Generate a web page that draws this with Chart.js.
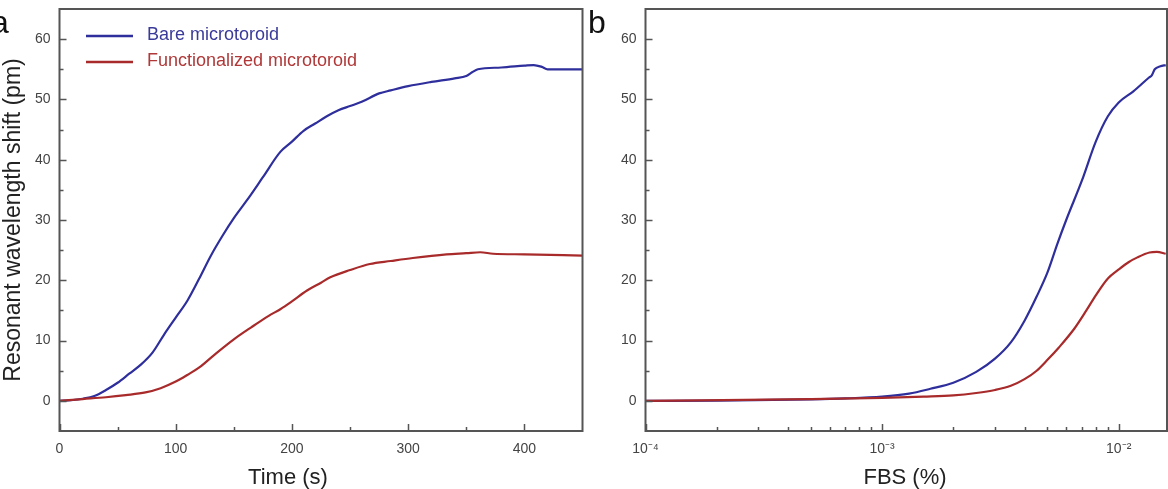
<!DOCTYPE html>
<html>
<head>
<meta charset="utf-8">
<script src="https://cdn.jsdelivr.net/npm/chart.js@4.4.0/dist/chart.umd.min.js"></script>
<style>
  html, body { margin: 0; padding: 0; background: #fff; overflow: hidden; }
  #wrap { position: relative; width: 1168px; height: 489px; }
  canvas { position: absolute; top: 0; }
  .panel { position: absolute; top: 6px; font: 32px "Liberation Sans", Arial, sans-serif; line-height: 1; color: #111; }
</style>
</head>
<body>
<div id="wrap">
  <canvas id="chartA" width="600" height="489" style="left:0"></canvas>
  <canvas id="chartB" width="568" height="489" style="left:600px"></canvas>
  <div class="panel" style="left:-9px">a</div>
  <div class="panel" style="left:588px">b</div>
</div>
<script>
// panel a: shift vs time
const bareTime = [0, 10, 20, 30, 40, 50, 60, 70, 80, 90, 100, 110, 120, 130, 140, 150, 161, 175, 190, 200, 210, 220, 230, 240, 250, 260, 275, 285, 300, 320, 340, 350, 355, 360, 380, 400, 408, 415, 420, 450];
const bareShift = [0, 0.1, 0.35, 0.8, 1.8, 3.0, 4.5, 6.0, 8.0, 11.0, 13.8, 16.6, 20.2, 24.0, 27.3, 30.3, 33.2, 37.1, 41.3, 43.0, 44.8, 46.0, 47.2, 48.2, 48.9, 49.6, 51.0, 51.5, 52.2, 52.9, 53.5, 53.9, 54.5, 55.0, 55.3, 55.6, 55.7, 55.4, 55.0, 55.0];
const funcTime = [0, 20, 40, 57, 74, 87, 100, 110, 120, 133, 150, 165, 180, 190, 200, 213, 225, 233, 250, 267, 285, 304, 333, 350, 362, 373, 400, 450];
const funcShift = [0, 0.3, 0.6, 0.95, 1.4, 2.1, 3.2, 4.3, 5.5, 7.6, 10.2, 12.2, 14.1, 15.2, 16.5, 18.3, 19.6, 20.5, 21.7, 22.7, 23.2, 23.7, 24.3, 24.5, 24.65, 24.4, 24.3, 24.1];

// panel b: shift vs FBS concentration
const bareFbs = [1e-4, 2e-4, 5e-4, 7e-4, 1e-3, 1.3e-3, 1.6e-3, 2e-3, 2.5e-3, 3e-3, 3.5e-3, 4e-3, 4.5e-3, 5e-3, 5.5e-3, 6e-3, 7e-3, 8e-3, 9e-3, 0.01, 0.0115, 0.0134, 0.0138, 0.0142, 0.015, 0.0158];
const bareFbsShift = [0, 0.05, 0.25, 0.4, 0.7, 1.2, 2.0, 3.0, 4.8, 7.0, 9.7, 13.3, 17.3, 21.3, 26.0, 30.0, 36.6, 43.0, 47.2, 49.5, 51.3, 53.6, 54.0, 55.0, 55.5, 55.7];
const funcFbs = [1e-4, 5e-4, 1e-3, 1.5e-3, 2e-3, 2.5e-3, 3e-3, 3.5e-3, 4e-3, 4.5e-3, 5e-3, 5.6e-3, 6.5e-3, 7.3e-3, 8e-3, 9e-3, 0.01, 0.011, 0.012, 0.0135, 0.0145, 0.0158];
const funcFbsShift = [0, 0.3, 0.5, 0.7, 0.9, 1.3, 1.8, 2.5, 3.6, 5.0, 6.8, 8.9, 12.0, 15.0, 17.5, 20.3, 21.8, 23.0, 23.8, 24.6, 24.7, 24.4];

// ticks
const shiftTicks = [0, 10, 20, 30, 40, 50, 60];
const shiftMinor = [5, 15, 25, 35, 45, 55];
const timeTicks = [0, 100, 200, 300, 400];
const timeMinor = [50, 150, 250, 350];
const fbsTicks = [1e-4, 1e-3, 1e-2];
const fbsTickLabels = ['10\u207B\u2074', '10\u207B\u00B3', '10\u207B\u00B2'];
const fbsMinor = [2e-4, 3e-4, 4e-4, 5e-4, 6e-4, 7e-4, 8e-4, 9e-4, 2e-3, 3e-3, 4e-3, 5e-3, 6e-3, 7e-3, 8e-3, 9e-3];

const seriesNames = ['Bare microtoroid', 'Functionalized microtoroid'];

const FONT = '"Liberation Sans", Arial, sans-serif';
const BLUE = '#2e2e9c';
const RED = '#a82a2a';

const zip = (xs, ys) => xs.map((x, i) => ({ x, y: ys[i] }));

// frame, inward ticks, legend and x title
const framePlugin = {
  id: 'frame',
  afterDraw(chart, args, opts) {
    const { ctx, chartArea: a, scales: { x, y } } = chart;
    ctx.save();
    ctx.strokeStyle = '#555';
    ctx.lineWidth = 2;
    ctx.strokeRect(a.left, a.top, a.right - a.left, a.bottom - a.top);

    ctx.lineWidth = 1.5;
    ctx.beginPath();
    opts.xMajor.forEach(v => {
      const px = Math.round(x.getPixelForValue(v)) + 0.5;
      ctx.moveTo(px, a.bottom); ctx.lineTo(px, a.bottom - 7);
    });
    opts.xMinor.forEach(v => {
      const px = Math.round(x.getPixelForValue(v)) + 0.5;
      ctx.moveTo(px, a.bottom); ctx.lineTo(px, a.bottom - 4);
    });
    shiftTicks.forEach(v => {
      const py = Math.round(y.getPixelForValue(v)) + 0.5;
      ctx.moveTo(a.left, py); ctx.lineTo(a.left + 7, py);
    });
    shiftMinor.forEach(v => {
      const py = Math.round(y.getPixelForValue(v)) + 0.5;
      ctx.moveTo(a.left, py); ctx.lineTo(a.left + 4, py);
    });
    ctx.stroke();

    if (opts.legend) {
      const colors = [BLUE, RED];
      const textColors = ['#3a3a9a', '#b03838'];
      ctx.font = '18px ' + FONT;
      ctx.textBaseline = 'middle';
      ctx.lineWidth = 2.4;
      seriesNames.forEach((name, i) => {
        const ly = 36 + i * 26;
        ctx.strokeStyle = colors[i];
        ctx.beginPath(); ctx.moveTo(86, ly); ctx.lineTo(133, ly); ctx.stroke();
        ctx.fillStyle = textColors[i];
        ctx.fillText(name, 147, ly - 1);
      });
    }

    ctx.font = '22px ' + FONT;
    ctx.fillStyle = '#222';
    ctx.textAlign = 'center';
    ctx.textBaseline = 'middle';
    ctx.fillText(opts.xTitle.text, opts.xTitle.x, opts.xTitle.y);
    ctx.restore();
  }
};

function lineSet(label, points, color, order) {
  return {
    label,
    data: points,
    borderColor: color,
    backgroundColor: color,
    borderWidth: 2.2,
    pointRadius: 0,
    cubicInterpolationMode: 'monotone',
    order
  };
}

function yScale(width, withTitle) {
  return {
    type: 'linear',
    min: -5,
    max: 65,
    grid: { display: false, drawTicks: false, tickLength: 0 },
    border: { display: false },
    ticks: { color: '#444', font: { size: 14, family: FONT }, padding: 9 },
    afterBuildTicks: s => { s.ticks = shiftTicks.map(v => ({ value: v })); },
    afterFit: s => { s.width = width; s.paddingTop = 0; s.paddingBottom = 0; },
    title: {
      display: withTitle,
      text: 'Resonant wavelength shift (pm)',
      color: '#222',
      font: { size: 23, family: FONT },
      padding: 0
    }
  };
}

function xFit(s) {
  s.height = 58;
  s.paddingLeft = 0;
  s.paddingRight = 0;
}

new Chart(document.getElementById('chartA'), {
  type: 'line',
  data: {
    datasets: [
      lineSet(seriesNames[0], zip(bareTime, bareShift), BLUE, 1),
      lineSet(seriesNames[1], zip(funcTime, funcShift), RED, 0)
    ]
  },
  options: {
    responsive: false,
    animation: false,
    layout: { padding: { left: 0, top: 9, right: 17.5, bottom: 0 } },
    plugins: {
      legend: { display: false },
      tooltip: { enabled: false },
      frame: {
        xMajor: timeTicks,
        xMinor: timeMinor,
        legend: true,
        xTitle: { text: 'Time (s)', x: 288, y: 478 }
      }
    },
    scales: {
      x: {
        type: 'linear',
        min: 0,
        max: 450,
        grid: { display: false, drawTicks: false, tickLength: 0 },
        border: { display: false },
        ticks: { color: '#444', font: { size: 14, family: FONT }, padding: 10, maxRotation: 0 },
        afterBuildTicks: s => { s.ticks = timeTicks.map(v => ({ value: v })); },
        afterFit: xFit
      },
      y: yScale(59.5, true)
    }
  },
  plugins: [framePlugin]
});

new Chart(document.getElementById('chartB'), {
  type: 'line',
  data: {
    datasets: [
      lineSet(seriesNames[0], zip(bareFbs, bareFbsShift), BLUE, 1),
      lineSet(seriesNames[1], zip(funcFbs, funcFbsShift), RED, 0)
    ]
  },
  options: {
    responsive: false,
    animation: false,
    layout: { padding: { left: 0, top: 9, right: 1, bottom: 0 } },
    plugins: {
      legend: { display: false },
      tooltip: { enabled: false },
      frame: {
        xMajor: fbsTicks,
        xMinor: fbsMinor,
        legend: false,
        xTitle: { text: 'FBS (%)', x: 305, y: 478 }
      }
    },
    scales: {
      x: {
        type: 'logarithmic',
        min: 1e-4,
        max: 0.016,
        grid: { display: false, drawTicks: false, tickLength: 0 },
        border: { display: false },
        ticks: {
          color: '#444',
          font: { size: 14, family: FONT },
          padding: 10,
          maxRotation: 0,
          autoSkip: false,
          callback: (v, i) => fbsTickLabels[i]
        },
        afterBuildTicks: s => { s.ticks = fbsTicks.map(v => ({ value: v })); },
        afterFit: xFit
      },
      y: yScale(45.5, false)
    }
  },
  plugins: [framePlugin]
});
</script>
</body>
</html>
